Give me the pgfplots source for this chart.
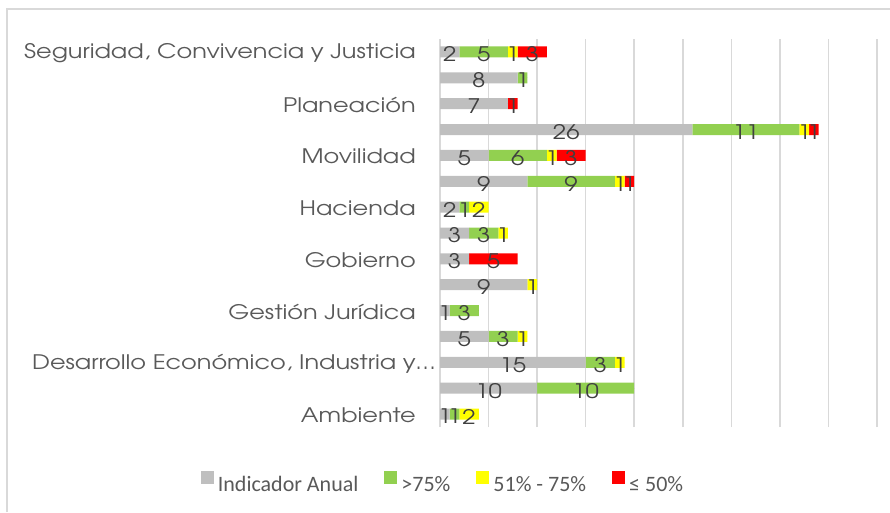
\documentclass[border=0pt]{standalone}
\usepackage{pgfplots}
\pgfplotsset{compat=1.18}
\usepackage{pgfplotstable}
\usepackage{fontspec}
\setmainfont[FakeStretch=1.2]{TeX Gyre Adventor}
\newfontfamily\legfont{Carlito}

\definecolor{cgray}{HTML}{BFBFBF}
\definecolor{cgreen}{HTML}{92D050}
\definecolor{cyellow}{HTML}{FFFF00}
\definecolor{cred}{HTML}{FF0000}
\definecolor{gridgray}{HTML}{D9D9D9}
\definecolor{labgray}{HTML}{595959}
\definecolor{labdark}{HTML}{404040}

% i = row (bottom to top), a = Indicador Anual, b = >75%, c = 51%-75%, d = <=50%
\pgfplotstableread{
i  a  b  c  d
1  1  1  2  0
2  10 10 0  0
3  15 3  1  0
4  5  3  1  0
5  1  3  0  0
6  9  0  1  0
7  3  0  0  5
8  3  3  1  0
9  2  1  2  0
10 9  9  1  1
11 5  6  1  3
12 26 11 1  1
13 7  0  0  1
14 8  1  0  0
15 2  5  1  3
}\datatable

\pgfplotsset{
  frame/.style={
    at={(440pt,85pt)}, anchor=south west,
    scale only axis, width=437pt, height=388pt,
    xmin=0, xmax=45, ymin=0.5, ymax=15.5, clip=false,
  },
  % value labels, drawn in a second axis so that they sit on top of all bars
  seglabel/.style={
    only marks, mark=*, mark size=0pt, mark options={draw=none, fill=none},
    visualization depends on={\thisrow{#1} \as \segval},
    nodes near coords={\ifdim\segval pt>0pt \pgfmathprintnumber[assume math mode=true]{\segval}\fi},
    every node near coord/.append style={
      anchor=center, inner sep=0pt, yshift=-2.5pt,
      font=\fontsize{20}{24}\selectfont, text=labdark},
  },
}

\begin{document}
\begin{tikzpicture}
\path[use as bounding box] (0pt,0pt) rectangle (890pt,512pt);
\draw[color=gridgray, line width=1.5pt] (7pt,0pt) -- (7pt,503pt) -- (890pt,503pt);
\begin{axis}[
  frame,
  xbar stacked, bar width=11pt,
  xtick={0,5,...,45}, xticklabels={},
  xmajorgrids, grid style={color=gridgray, line width=1.5pt},
  axis line style={draw=none}, tick style={draw=none},
  ytick={1,3,...,15},
  yticklabels={Ambiente,
    {Desarrollo Económico, Industria y\rlap{…}},
    Gestión Jurídica, Gobierno, Hacienda, Movilidad,
    Planeación\hspace{6pt},
    {Seguridad, Convivencia y Justicia}},
  yticklabel style={font=\fontsize{20}{24}\selectfont, text=labgray,
    anchor=east, inner sep=0pt, xshift=-24pt, yshift=-1pt},
  legend style={at={(0.0046,-0.1366)}, anchor=center, draw=none, fill=none,
    legend columns=4, font=\legfont\fontsize{22}{26}\selectfont, text=labgray,
    /tikz/every odd column/.append style={column sep=4pt},
    /tikz/every even column/.append style={column sep=26pt},
    nodes={inner sep=0pt}},
  legend image code/.code={\fill[#1] (0pt,0pt) rectangle (13pt,13pt);
    \path (0pt,17pt);},
]
\addplot[fill=cgray, draw=none] table[x=a, y=i] {\datatable};
\addlegendentry{Indicador Anual}
\addplot[fill=cgreen, draw=none] table[x=b, y=i] {\datatable};
\addlegendentry{>75\%}
\addplot[fill=cyellow, draw=none] table[x=c, y=i] {\datatable};
\addlegendentry{51\% - 75\%}
\addplot[fill=cred, draw=none] table[x=d, y=i] {\datatable};
\addlegendentry{≤ 50\%}
\end{axis}
\begin{axis}[frame, hide axis]
\addplot[seglabel=a] table[x expr={\thisrow{a}/2}, y=i] {\datatable};
\addplot[seglabel=b] table[x expr={\thisrow{a}+\thisrow{b}/2}, y=i] {\datatable};
\addplot[seglabel=c] table[x expr={\thisrow{a}+\thisrow{b}+\thisrow{c}/2}, y=i] {\datatable};
\addplot[seglabel=d] table[x expr={\thisrow{a}+\thisrow{b}+\thisrow{c}+\thisrow{d}/2}, y=i] {\datatable};
\end{axis}
\end{tikzpicture}
\end{document}
